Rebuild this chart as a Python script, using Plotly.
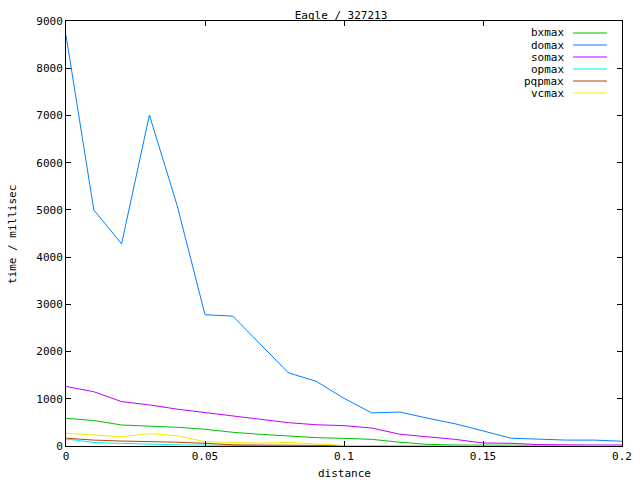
import plotly.graph_objects as go

distance = [0.00, 0.01, 0.02, 0.03, 0.04, 0.05, 0.06, 0.07, 0.08, 0.09, 0.10,
            0.11, 0.12, 0.13, 0.14, 0.15, 0.16, 0.17, 0.18, 0.19, 0.20]

bxmax = [586, 540, 445, 424, 396, 355, 290, 247, 205, 177, 162,
         141, 80, 35, 21, 21, 18, 15, 0, 0, 0]
domax = [8700, 5000, 4280, 7010, 5090, 2780, 2750, 2150, 1550, 1370, 1010,
         700, 720, 590, 470, 320, 165, 145, 125, 125, 100]
somax = [1260, 1150, 940, 870, 780, 713, 640, 565, 494, 450, 431,
         380, 250, 200, 140, 64, 57, 30, 21, 21, 21]
opmax = [150, 75, 55, 35, 25, 20, 10, 5, 0, 0, 0,
         0, 0, 0, 0, 0, 0, 0, 0, 0, 0]
pqpmax = [165, 125, 105, 100, 80, 57, 25, 20, 20, 20, 10,
          0, 0, 0, 0, 0, 0, 0, 0, 0, 0]
vcmax = [270, 240, 198, 261, 219, 90, 78, 60, 78, 40, 10,
         5, 3, 0, 0, 0, 0, 0, 0, 0, 0]

names = ["bxmax", "domax", "somax", "opmax", "pqpmax", "vcmax"]
series = [bxmax, domax, somax, opmax, pqpmax, vcmax]
colors = ["#00c000", "#0080ff", "#c000ff", "#00eeee", "#c04000", "#eeee00"]

x_ticks = [0, 0.05, 0.1, 0.15, 0.2]
x_ticktext = ["0", "0.05", "0.1", "0.15", "0.2"]

FONT = "DejaVu Sans Mono"
FS = 11

fig = go.Figure()
for name, ys, col in zip(names, series, colors):
    fig.add_trace(go.Scatter(x=distance, y=ys, mode="lines", name=name,
                             line=dict(color=col, width=1), showlegend=False))

# Manual gnuplot-style key (text left of line sample)
L, R, T, B = 66, 622, 21, 446
W, H = R - L, B - T
rows = [33, 45, 57, 69, 81, 93]
for name, col, py in zip(names, colors, rows):
    yp = (B - py) / H
    fig.add_annotation(x=(566 - L) / W, y=yp, xref="paper", yref="paper",
                       text=name, showarrow=False, xanchor="right", yanchor="middle",
                       font=dict(family=FONT, size=FS, color="black"))
    fig.add_shape(type="line", xref="paper", yref="paper",
                  x0=(573 - L) / W, x1=(607 - L) / W, y0=yp, y1=yp,
                  line=dict(color=col, width=1))

fig.add_annotation(x=(12 - L) / W, y=(B - 234) / H, xref="paper", yref="paper",
                   text="time / millisec", textangle=-90, showarrow=False,
                   xanchor="center", yanchor="middle",
                   font=dict(family=FONT, size=FS, color="black"))
fig.add_annotation(x=0.5, y=(B - 473) / H, xref="paper", yref="paper",
                   text="distance", showarrow=False, xanchor="center", yanchor="middle",
                   font=dict(family=FONT, size=FS, color="black"))

axis_common = dict(showline=True, linecolor="black", linewidth=1, mirror="allticks",
                   ticks="inside", ticklen=5, tickcolor="black", tickwidth=1,
                   showgrid=False, zeroline=False,
                   tickfont=dict(family=FONT, size=FS, color="black"))

fig.update_layout(
    width=640, height=480,
    margin=dict(l=L, r=640 - R, t=T, b=480 - B, autoexpand=False),
    paper_bgcolor="white", plot_bgcolor="white",
    title=dict(text="Eagle / 327213", x=341 / 640, xanchor="center",
               y=1 - 15 / 480, yanchor="middle",
               font=dict(family=FONT, size=FS, color="black")),
    xaxis=dict(range=[0, 0.2], tickvals=x_ticks, ticktext=x_ticktext, **axis_common),
    yaxis=dict(range=[0, 9000], tickmode="linear", tick0=0, dtick=1000, **axis_common),
    hovermode=False,
)

fig.write_html("out.html", config={"displayModeBar": False, "staticPlot": True},
               post_script="document.body.style.margin='0';document.body.style.overflow='hidden';")
